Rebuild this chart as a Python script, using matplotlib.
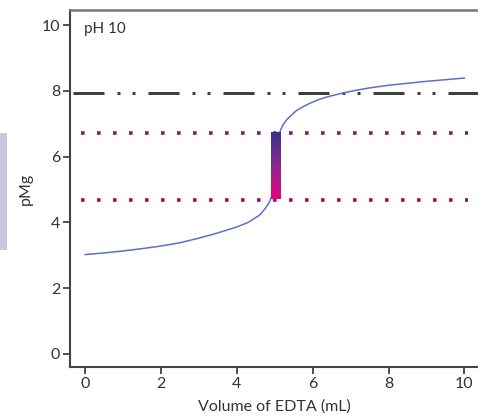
import numpy as np
import matplotlib
matplotlib.use("Agg")
import matplotlib.pyplot as plt
from matplotlib.colors import LinearSegmentedColormap
from matplotlib.patches import Rectangle

plt.rcParams['font.family'] = ['Lato', 'DejaVu Sans']
plt.rcParams['lines.scale_dashes'] = False

# Titration curve
volume = [0, 0.5, 1, 1.5, 2, 2.5, 3, 3.5, 4, 4.3, 4.6, 4.75, 4.85, 4.92, 4.97,
          5.0, 5.03, 5.07, 5.1, 5.15, 5.22, 5.3, 5.4, 5.57, 5.75, 5.92, 6.15,
          6.36, 6.6, 6.9, 7.2, 7.5, 8, 8.5, 9, 9.5, 10]
pmg = [3.02, 3.07, 3.13, 3.2, 3.28, 3.38, 3.52, 3.68, 3.86, 4.0, 4.22, 4.42,
       4.6, 4.8, 5.1, 5.6, 6.05, 6.45, 6.62, 6.8, 6.97, 7.1, 7.22, 7.4, 7.52,
       7.62, 7.73, 7.81, 7.88, 7.96, 8.03, 8.09, 8.17, 8.23, 8.29, 8.34, 8.39]

indicator_level = 7.95          # dash-dot-dot line
range_high = 6.72               # upper dotted line
range_low = 4.68                # lower dotted line
bar_x = 5.01                    # gradient bar position
x_ticks = [0, 2, 4, 6, 8, 10]
y_ticks = [0, 2, 4, 6, 8, 10]

W, H = 478, 416
fig = plt.figure(figsize=(W / 100, H / 100), dpi=100)
ax = fig.add_axes([70 / W, (416 - 367) / H, (478 - 70) / W, (367 - 10) / H])

# grey patch at far left of the figure
fig.patches.append(Rectangle((0, (416 - 250) / H), 7 / W, (250 - 133) / H,
                             transform=fig.transFigure, facecolor='#c9c8dc',
                             edgecolor='none'))

# dash-dot-dot line
px = 0.72  # points per pixel
ax.plot([-0.32, 10.36], [indicator_level] * 2, color='#3f3f3f', lw=3 * px,
        dashes=(31 * px, 13 * px, 3 * px, 12 * px, 3 * px, 13 * px),
        dash_capstyle='butt', solid_capstyle='butt')

# dotted purple lines
for lvl in (range_high, range_low):
    ax.plot([-0.1, 10.1], [lvl, lvl], color='#7b1a7d', lw=3.6 * px,
            dashes=(3.6 * px, 12.4 * px), dash_capstyle='butt')

# curve
ax.plot(volume, pmg, color='#5a72c8', lw=1.1, zorder=3)

# gradient bar
cmap = LinearSegmentedColormap.from_list('bar', ['#e6007e', '#8a2a8c', '#36308e'])
grad = np.linspace(0, 1, 256).reshape(-1, 1)
ax.imshow(grad, cmap=cmap, origin='lower', aspect='auto',
          extent=(bar_x - 0.12, bar_x + 0.12, range_low + 0.03, range_high),
          zorder=4)
ax.set_xlim(-0.4, 10.36)
ax.set_ylim(-0.4, 10.46)

ax.text(0.035, 0.965, 'pH 10', transform=ax.transAxes, ha='left', va='top',
        fontsize=11, color='#333333')

ax.set_xticks(x_ticks)
ax.set_yticks(y_ticks)
ax.tick_params(direction='out', length=5, width=1.3, colors='#444444',
               labelsize=11.5, labelcolor='#333333', pad=2)
for s in ('left', 'bottom'):
    ax.spines[s].set_color('#444444')
    ax.spines[s].set_linewidth(1.5)
ax.spines['top'].set_color('#777777')
ax.spines['top'].set_linewidth(1.8)
ax.spines['right'].set_visible(False)

ax.set_xlabel('Volume of EDTA (mL)', fontsize=11.5, color='#333333', labelpad=6)
ax.set_ylabel('pMg', fontsize=11.5, color='#333333', labelpad=6)

fig.savefig('out.png', dpi=100)
